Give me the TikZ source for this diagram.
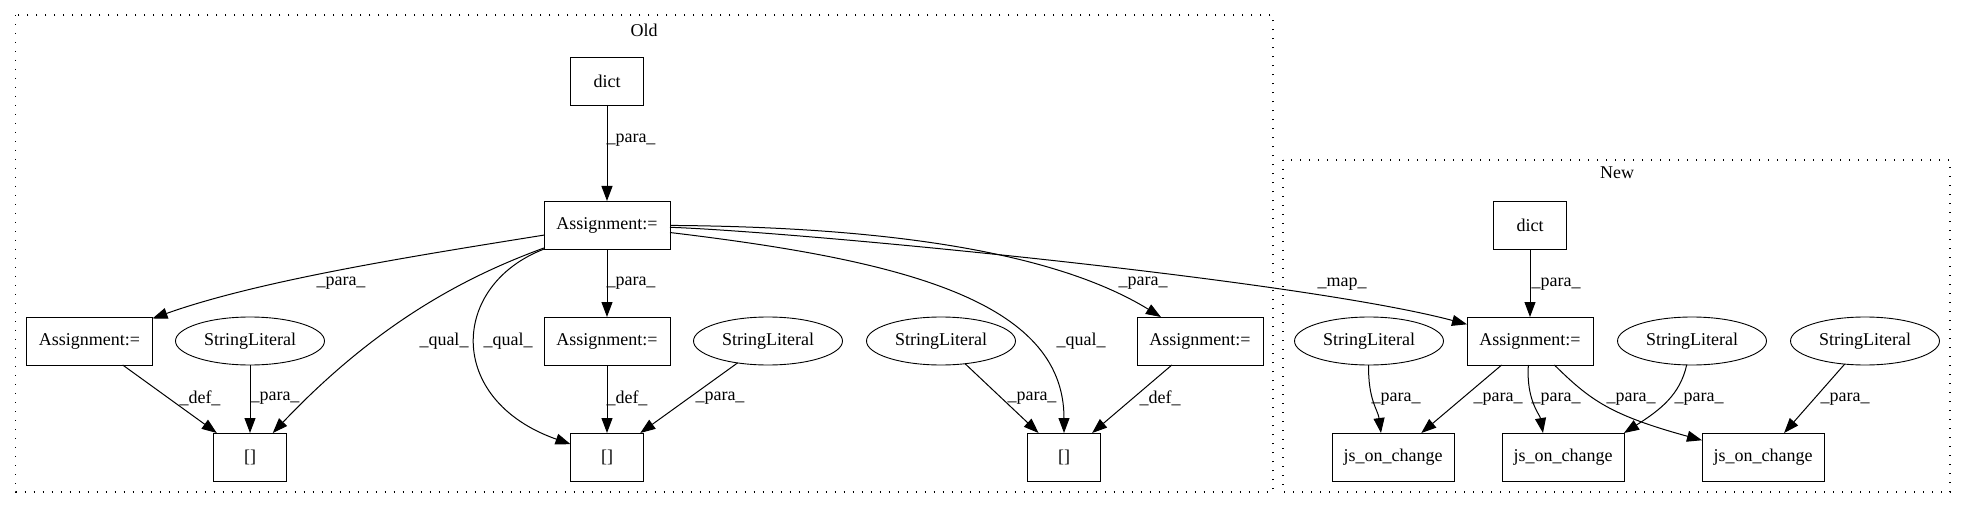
\documentclass[tikz,border=0pt]{standalone}
\usepackage{fontspec}
\setmainfont{Liberation Serif}
\usetikzlibrary{arrows.meta,shapes.geometric}
\begin{document}
\begin{tikzpicture}[x=0.5pt,y=-0.5pt,
  every node/.style={font=\fontsize{9}{11}\selectfont, inner sep=0pt, outer sep=0pt},
  box/.style={draw, line width=0.45pt, minimum height=24pt},
  sq/.style={box, minimum width=36.5pt},
  asg/.style={box, minimum width=63pt},
  js/.style={box, minimum width=61pt},
  ell/.style={draw, ellipse, line width=0.45pt, minimum width=74.5pt, minimum height=24pt},
  lbl/.style={},
  edge/.style={line width=0.5pt, -{Triangle[length=7.5pt,width=5.5pt]}},
  frame/.style={line width=0.6pt, dash pattern=on 0.7pt off 3.8pt}]
\useasboundingbox (0,0) rectangle (1967,508);
% frames
\draw[frame] (15.6,15) rectangle (1273,492);
\draw[frame] (1283,160) rectangle (1950,492);
\node (oldt) at (644,30) {Old};
\node (newt) at (1617,173) {New};
% Old nodes
\node[sq] (odict) at (607,81) {dict};
\node[asg] (omain) at (607,225) {Assignment:=};
\node[asg] (oasl) at (89.5,341) {Assignment:=};
\node[ell] (osl1) at (250,341) {StringLiteral};
\node[asg] (oasm) at (607,341) {Assignment:=};
\node[ell] (osl2) at (768,341) {StringLiteral};
\node[ell] (osl3) at (941,341) {StringLiteral};
\node[asg] (oasr) at (1200,341) {Assignment:=};
\node[sq] (ob1) at (250,457) {[]};
\node[sq] (ob2) at (607,457) {[]};
\node[sq] (ob3) at (1064,457) {[]};
% New nodes
\node[sq] (ndict) at (1530,225) {dict};
\node[asg] (nas) at (1530,341) {Assignment:=};
\node[ell] (nsl1) at (1369,341) {StringLiteral};
\node[ell] (nsl2) at (1692,341) {StringLiteral};
\node[ell] (nsl3) at (1865,341) {StringLiteral};
\node[js] (njs1) at (1393,457) {js\_on\_change};
\node[js] (njs2) at (1563,457) {js\_on\_change};
\node[js] (njs3) at (1763,457) {js\_on\_change};
% Old edges
\draw[edge] (odict) -- (omain);
\draw[edge] (omain) .. controls (420,255) and (260,280) .. (oasl);
\draw[edge] (omain) .. controls (470,275) and (380,320) .. (ob1);
\draw[edge] (omain) .. controls (450,285) and (445,400) .. (ob2);
\draw[edge] (omain) -- (oasm);
\draw[edge] (omain) .. controls (900,260) and (1064,300) .. (ob3);
\draw[edge] (omain) .. controls (900,227) and (1060,255) .. (oasr);
\draw[edge] (omain) .. controls (800,232) and (1300,280) .. (nas);
\draw[edge] (oasl) -- (ob1);
\draw[edge] (osl1) -- (ob1);
\draw[edge] (oasm) -- (ob2);
\draw[edge] (osl2) -- (ob2);
\draw[edge] (osl3) -- (ob3);
\draw[edge] (oasr) -- (ob3);
% New edges
\draw[edge] (ndict) -- (nas);
\draw[edge] (nsl1) .. controls (1368,400) and (1378,410) .. ([xshift=-6pt]njs1.north);
\draw[edge] (nas) -- (njs1);
\draw[edge] (nas) .. controls (1526,400) and (1540,415) .. ([xshift=-10pt]njs2.north);
\draw[edge] (nsl2) .. controls (1680,395) and (1660,410) .. (njs2.north east);
\draw[edge] (nas) .. controls (1590,400) and (1610,415) .. (njs3);
\draw[edge] (nsl3) -- (njs3);
% labels
\node[lbl] (l1) at (631,140) {\_para\_};
\node[lbl] (l2) at (341,283) {\_para\_};
\node[lbl] (l3) at (444,341) {\_qual\_};
\node[lbl] (l4) at (508,341) {\_qual\_};
\node[lbl] (l5) at (631,283) {\_para\_};
\node[lbl] (l6) at (200,398) {\_def\_};
\node[lbl] (l7) at (275,398) {\_para\_};
\node[lbl] (l8) at (627,398) {\_def\_};
\node[lbl] (l9) at (1143,283) {\_para\_};
\node[lbl] (l10) at (1081,341) {\_qual\_};
\node[lbl] (l11) at (720,398) {\_para\_};
\node[lbl] (l12) at (1032,398) {\_para\_};
\node[lbl] (l13) at (1160,398) {\_def\_};
\node[lbl] (l14) at (1342,284) {\_map\_};
\node[lbl] (l15) at (1556,284) {\_para\_};
\node[lbl] (l16) at (1396,399) {\_para\_};
\node[lbl] (l17) at (1498,399) {\_para\_};
\node[lbl] (l18) at (1556,399) {\_para\_};
\node[lbl] (l19) at (1631,399) {\_para\_};
\node[lbl] (l20) at (1699,399) {\_para\_};
\node[lbl] (l21) at (1845,399) {\_para\_};
\end{tikzpicture}
\end{document}
